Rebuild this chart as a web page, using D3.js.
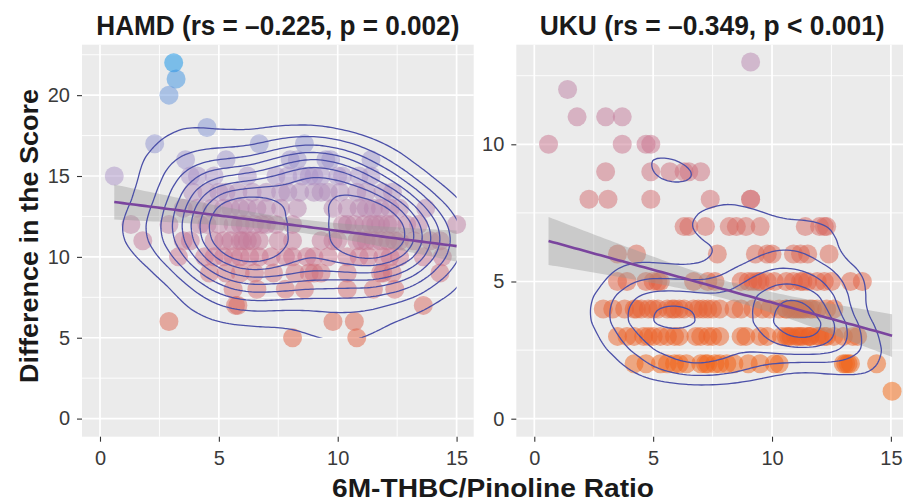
<!DOCTYPE html>
<html>
<head>
<meta charset="utf-8">
<script src="https://cdn.jsdelivr.net/npm/d3@7"></script>
<style>
  body { margin: 0; background: #fff; }
  text { font-family: "Liberation Sans", Arial, Helvetica, sans-serif; }
</style>
</head>
<body>
<div id="chart"></div>
<script>
// ---- data: [score, [ratio values at that score]] ----
const hamdLevels = [
  [22, [3.1]],
  [21, [3.2]],
  [20, [2.9]],
  [18, [4.5]],
  [17, [2.3, 6.7, 8.6]],
  [16, [3.6, 5.3, 8.0, 8.3, 9.5, 9.7, 11.4]],
  [15, [0.6, 3.8, 4.1, 4.8, 6.2, 7.4, 7.9, 8.5, 8.8, 9.0, 9.3, 10.0, 10.2, 10.9, 11.4]],
  [14, [3.9, 4.5, 5.0, 5.3, 5.8, 6.4, 7.0, 7.6, 7.9, 8.4, 9.0, 9.3, 9.6, 10.1, 10.8, 11.2, 11.9, 12.3]],
  [13, [3.5, 4.1, 4.7, 5.2, 5.5, 5.9, 6.2, 6.6, 7.0, 7.6, 8.3, 9.8, 10.4, 10.9, 11.2, 11.5, 11.8, 12.2, 12.6, 13.7]],
  [12, [1.3, 2.9, 4.2, 4.5, 5.0, 5.6, 5.9, 6.1, 6.5, 6.8, 7.0, 7.4, 8.1, 10.2, 10.4, 10.7, 11.1, 11.4, 11.6, 11.8, 12.1, 12.3, 12.9, 13.4, 15.0]],
  [11, [1.8, 3.5, 3.8, 4.8, 5.2, 5.5, 5.9, 6.0, 6.2, 6.4, 6.7, 7.5, 8.1, 9.3, 9.8, 10.0, 10.8, 11.0, 11.2, 11.5, 11.8, 12.1, 12.4, 12.6, 13.2, 13.9, 14.3]],
  [10, [3.3, 4.4, 4.8, 5.2, 5.6, 5.9, 6.3, 6.7, 7.2, 7.8, 8.1, 8.7, 9.0, 9.6, 10.4, 10.9, 11.3, 11.9, 12.2, 12.6, 13.6, 14.4]],
  [9, [4.6, 5.3, 5.9, 6.5, 7.3, 8.2, 8.8, 9.0, 9.3, 10.4, 11.8, 11.9, 12.3, 14.3]],
  [8, [5.6, 6.6, 7.8, 8.6, 10.4, 11.5, 12.4]],
  [7, [5.7, 5.8, 13.6]],
  [6, [2.9, 9.8, 10.7]],
  [5, [8.1, 10.8]]
];

const ukuLevels = [
  [13, [9.1]],
  [12, [1.4]],
  [11, [1.8, 3.0, 3.7]],
  [10, [0.6, 3.7, 4.7, 4.9]],
  [9, [3.0, 4.9, 5.7, 6.3, 6.5, 7.0]],
  [8, [2.3, 3.1, 4.9, 7.4, 9.1, 9.1]],
  [7, [6.3, 6.5, 7.2, 8.2, 8.5, 8.9, 9.5, 11.4, 12.0, 12.2, 12.3]],
  [6, [3.5, 4.3, 7.7, 9.3, 9.8, 10.0, 10.9, 11.2, 11.5, 12.4]],
  [5, [3.5, 3.9, 4.7, 5.0, 5.2, 5.3, 6.7, 7.3, 7.6, 8.7, 9.0, 9.2, 9.4, 9.5, 9.8, 10.1, 10.6, 10.9, 11.2, 11.3, 11.5, 11.9, 12.2, 12.5, 13.3, 13.8]],
  [4, [2.9, 3.3, 3.8, 4.2, 4.3, 4.5, 4.8, 5.0, 5.2, 5.6, 5.8, 5.9, 6.1, 6.3, 6.7, 6.9, 7.1, 7.3, 7.5, 7.8, 8.4, 8.7, 9.2, 9.6, 9.9, 10.3, 10.6, 10.6, 10.8, 10.9, 11.0, 11.1, 11.2, 11.3, 11.4, 11.6, 11.7, 11.9, 12.3, 12.6]],
  [3, [3.5, 3.9, 4.2, 4.6, 4.8, 5.0, 5.3, 5.6, 5.9, 6.1, 6.8, 7.0, 7.3, 7.5, 7.8, 8.7, 8.9, 9.5, 9.8, 10.4, 10.6, 10.7, 10.8, 11.0, 11.1, 11.2, 11.3, 11.5, 11.6, 11.6, 11.9, 12.0, 12.2, 12.3, 12.6, 13.0, 13.4, 13.6]],
  [2, [4.2, 4.7, 5.3, 5.6, 5.9, 6.1, 6.4, 7.0, 7.2, 7.3, 7.6, 7.8, 8.1, 8.4, 9.0, 9.5, 10.1, 10.3, 13.0, 13.1, 13.2, 13.3, 14.4]],
  [1, [15.05]]
];

const xTicks = [0, 5, 10, 15];
const xMinor = [2.5, 7.5, 12.5];
const hamdYTicks = [0, 5, 10, 15, 20];
const hamdYMinor = [2.5, 7.5, 12.5, 17.5, 22.5];
const ukuYTicks = [0, 5, 10];
const ukuYMinor = [2.5, 7.5, 12.5];
const titles = ["HAMD (rs = \u20130.225, p = 0.002)", "UKU (rs = \u20130.349, p < 0.001)"];
const xTitle = "6M-THBC/Pinoline Ratio";
const yTitle = "Difference in the Score";
// density contour levels as fractions of the peak density, per panel
const contourFractions = [
  [0.1, 0.2, 0.3, 0.4, 0.5, 0.6, 0.7, 0.8],
  [0.2, 0.37, 0.54, 0.71, 0.88]
];
// bandwidth multipliers [x, y] per panel
const bwAdjust = [[1.05, 1.25], [1, 1]];

// ---- layout ----
const width = 903, height = 502;
const panelW = 391.7, panelH = 392, panelTop = 44.7;
const panelLeft = [82, 516.3];
const xDomain = [-0.757, 15.72];

const svg = d3.select("#chart").append("svg")
  .attr("width", width).attr("height", height)
  .style("display", "block");

// point colour follows the score: orange (low) -> mauve -> blue (high)
const color = d3.scaleLinear()
  .domain([1, 5, 10, 15, 20, 22])
  .range(["#f5650d", "#e15f41", "#c9738d", "#ab93c7", "#6795db", "#0a8fe7"]);

function flatten(levels) {
  const out = [];
  levels.forEach(([score, xs]) => xs.forEach(v => out.push([v, score])));
  return out;
}

// kde2d-style normal reference bandwidth (sd of the kernel)
function nrd(vals) {
  const s = vals.slice().sort(d3.ascending);
  const iqr = d3.quantile(s, 0.75) - d3.quantile(s, 0.25);
  const sd = d3.deviation(s);
  return 1.06 * Math.min(sd, iqr / 1.34) * Math.pow(s.length, -0.2);
}

function fitLine(pts, lo, hi) {
  const n = pts.length;
  const mx = d3.mean(pts, d => d[0]), my = d3.mean(pts, d => d[1]);
  const sxx = d3.sum(pts, d => (d[0] - mx) ** 2);
  const b = d3.sum(pts, d => (d[0] - mx) * (d[1] - my)) / sxx;
  const a = my - b * mx;
  const s = Math.sqrt(d3.sum(pts, d => (d[1] - a - b * d[0]) ** 2) / (n - 2));
  return d3.range(80).map(i => {
    const v = lo + (hi - lo) * i / 79;
    const f = a + b * v;
    const se = 1.97 * s * Math.sqrt(1 / n + (v - mx) ** 2 / sxx);
    return { x: v, f: f, lo: f - se, hi: f + se };
  });
}

function drawPanel(idx, levels, yDomain, yTicks, yMinor, titleLen) {
  const pts = flatten(levels);
  const x = d3.scaleLinear().domain(xDomain).range([0, panelW]);
  const y = d3.scaleLinear().domain(yDomain).range([panelH, 0]);

  const g = svg.append("g")
    .attr("transform", `translate(${panelLeft[idx]},${panelTop})`);

  g.append("rect").attr("width", panelW).attr("height", panelH).attr("fill", "#ebebeb");

  // grid
  const grid = g.append("g").attr("stroke", "#fff");
  grid.selectAll(".xm").data(xMinor).join("line")
    .attr("x1", d => x(d)).attr("x2", d => x(d)).attr("y1", 0).attr("y2", panelH)
    .attr("stroke-width", 0.9);
  grid.selectAll(".ym").data(yMinor.filter(v => v < yDomain[1])).join("line")
    .attr("y1", d => y(d)).attr("y2", d => y(d)).attr("x1", 0).attr("x2", panelW)
    .attr("stroke-width", 0.9);
  grid.selectAll(".xM").data(xTicks).join("line")
    .attr("x1", d => x(d)).attr("x2", d => x(d)).attr("y1", 0).attr("y2", panelH)
    .attr("stroke-width", 1.7);
  grid.selectAll(".yM").data(yTicks).join("line")
    .attr("y1", d => y(d)).attr("y2", d => y(d)).attr("x1", 0).attr("x2", panelW)
    .attr("stroke-width", 1.7);

  const clipId = "clip" + idx;
  g.append("clipPath").attr("id", clipId).append("rect")
    .attr("width", panelW).attr("height", panelH);
  const plot = g.append("g").attr("clip-path", `url(#${clipId})`);

  // points
  plot.append("g").selectAll("circle").data(pts).join("circle")
    .attr("cx", d => x(d[0])).attr("cy", d => y(d[1])).attr("r", 9.5)
    .attr("fill", d => color(d[1])).attr("fill-opacity", 0.5);

  // regression line with 95% band
  const xs = pts.map(d => d[0]), ys = pts.map(d => d[1]);
  const fit = fitLine(pts, d3.min(xs), d3.max(xs));
  plot.append("path").datum(fit)
    .attr("d", d3.area().x(d => x(d.x)).y0(d => y(d.lo)).y1(d => y(d.hi)))
    .attr("fill", "#999").attr("fill-opacity", 0.4);

  // 2d density contours, separate bandwidth per axis like kde2d
  const bx = nrd(xs) * bwAdjust[idx][0] * (x(1) - x(0));
  const by = nrd(ys) * bwAdjust[idx][1] * (y(0) - y(1));
  const k = by / bx;
  const density = d3.contourDensity()
    .x(d => x(d[0]) * k).y(d => y(d[1]))
    .size([panelW * k, panelH])
    .cellSize(2)
    .bandwidth(by)
    .contours(pts);
  const contours = contourFractions[idx].map(f => density(density.max * f));
  const proj = d3.geoTransform({ point: function (px, py) { this.stream.point(px / k, py); } });
  const cid = "dclip" + idx;
  g.append("clipPath").attr("id", cid).append("rect")
    .attr("x", x(d3.min(xs))).attr("y", y(d3.max(ys)))
    .attr("width", x(d3.max(xs)) - x(d3.min(xs)))
    .attr("height", y(d3.min(ys)) - y(d3.max(ys)));
  plot.append("g").attr("clip-path", `url(#${cid})`)
    .selectAll("path").data(contours).join("path")
    .attr("d", d3.geoPath(proj))
    .attr("fill", "none").attr("stroke", "#4b50a8").attr("stroke-width", 1.3)
    .attr("stroke-linejoin", "round");

  plot.append("path").datum(fit)
    .attr("d", d3.line().x(d => x(d.x)).y(d => y(d.f)))
    .attr("fill", "none").attr("stroke", "#7a449e").attr("stroke-width", 2.6);

  // axes
  const ax = g.append("g").attr("transform", `translate(0,${panelH})`)
    .call(d3.axisBottom(x).tickValues(xTicks).tickSize(5).tickPadding(9));
  const ay = g.append("g")
    .call(d3.axisLeft(y).tickValues(yTicks).tickSize(5).tickPadding(7));
  [ax, ay].forEach(a => {
    a.select(".domain").remove();
    a.selectAll(".tick line").attr("stroke", "#333").attr("stroke-width", 1.1);
    a.selectAll(".tick text").attr("fill", "#3a3a3a")
      .style("font-size", "20px").style("font-family", '"Liberation Sans", Arial, sans-serif');
  });

  // facet title
  g.append("text")
    .attr("x", panelW / 2).attr("y", 35 - panelTop)
    .attr("text-anchor", "middle")
    .attr("textLength", titleLen).attr("lengthAdjust", "spacingAndGlyphs")
    .style("font-size", "27px").style("font-weight", "bold").attr("fill", "#1a1a1a")
    .text(titles[idx]);
}

drawPanel(0, hamdLevels, [-1.12, 23.12], hamdYTicks, hamdYMinor, 363);
drawPanel(1, ukuLevels, [-0.656, 13.63], ukuYTicks, ukuYMinor, 345);

svg.append("text")
  .attr("x", 493).attr("y", 497)
  .attr("text-anchor", "middle")
  .attr("textLength", 322).attr("lengthAdjust", "spacingAndGlyphs")
  .style("font-size", "25px").style("font-weight", "bold").attr("fill", "#1a1a1a")
  .text(xTitle);

svg.append("text")
  .attr("transform", "translate(38,236) rotate(-90)")
  .attr("text-anchor", "middle")
  .attr("textLength", 294).attr("lengthAdjust", "spacingAndGlyphs")
  .style("font-size", "26px").style("font-weight", "bold").attr("fill", "#1a1a1a")
  .text(yTitle);
</script>
</body>
</html>
